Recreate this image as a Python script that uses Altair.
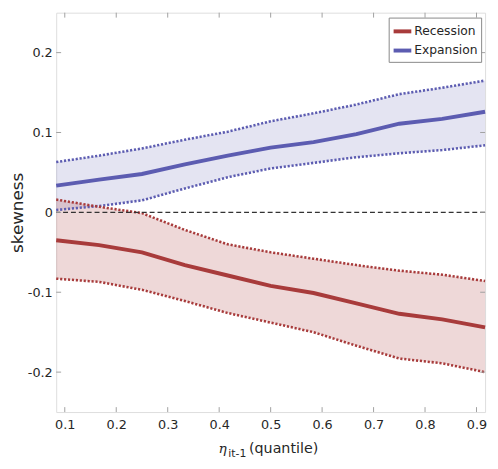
import altair as alt
import pandas as pd

# quantile grid (1/12 ... 11/12)
quantiles = [1/12, 2/12, 3/12, 4/12, 5/12, 6/12, 7/12, 8/12, 9/12, 10/12, 11/12]

exp_mean = [0.0335, 0.041, 0.048, 0.060, 0.071, 0.081, 0.088, 0.098, 0.111, 0.117, 0.126]
exp_hi = [0.063, 0.071, 0.080, 0.091, 0.101, 0.114, 0.124, 0.135, 0.148, 0.156, 0.165]
exp_lo = [0.003, 0.008, 0.015, 0.030, 0.044, 0.055, 0.062, 0.069, 0.074, 0.078, 0.084]

rec_mean = [-0.035, -0.041, -0.050, -0.066, -0.079, -0.092, -0.101, -0.114, -0.127, -0.134, -0.144]
rec_hi = [0.016, 0.007, -0.001, -0.022, -0.040, -0.050, -0.058, -0.066, -0.073, -0.078, -0.086]
rec_lo = [-0.083, -0.087, -0.097, -0.111, -0.126, -0.138, -0.150, -0.167, -0.183, -0.189, -0.200]

series = ["Recession", "Expansion"]
colors = ["#a83b3b", "#5c5cb1"]

x_ticks = [0.1, 0.2, 0.3, 0.4, 0.5, 0.6, 0.7, 0.8, 0.9]
y_ticks = [-0.2, -0.1, 0.0, 0.1, 0.2]

rows = []
for name, m, lo, hi in [("Recession", rec_mean, rec_lo, rec_hi),
                        ("Expansion", exp_mean, exp_lo, exp_hi)]:
    for q, a, b, c in zip(quantiles, m, lo, hi):
        rows.append({"q": q, "series": name, "mean": a, "lo": b, "hi": c})
df = pd.DataFrame(rows)

W, H = 436, 406
FONT = "DejaVu Sans"
TXT = "#262626"

xscale = alt.Scale(domain=[1/12, 11/12], nice=False, zero=False)
yscale = alt.Scale(domain=[-0.25, 0.25], nice=False, zero=False)
cscale = alt.Scale(domain=series, range=colors)

xaxis = alt.Axis(values=x_ticks, format=".1f", ticks=False, domain=False,
                 grid=False, labelPadding=7, labelFontSize=13,
                 labelFont=FONT, labelColor=TXT, title=None)
yaxis = alt.Axis(values=y_ticks, ticks=False, domain=False, grid=False,
                 labelExpr="datum.value == 0 ? '0' : replace(format(datum.value, '.1f'), '\u2212', '-')",
                 labelPadding=4, labelFontSize=13, labelFont=FONT, labelColor=TXT,
                 title="skewness", titleFontSize=17, titleFont=FONT,
                 titleFontWeight="normal", titleColor=TXT, titlePadding=1)


def X(field):
    return alt.X(field, type="quantitative", scale=xscale, axis=xaxis)


def Y(field):
    return alt.Y(field, type="quantitative", scale=yscale, axis=yaxis)


base = alt.Chart(df)

layers = []
for name, col, op in [("Expansion", colors[1], 0.17), ("Recession", colors[0], 0.2)]:
    layers.append(base.transform_filter(alt.datum.series == name).mark_area(
        color=col, opacity=op).encode(x=X("q"), y=Y("lo"), y2="hi:Q"))
for name, col in [("Expansion", colors[1]), ("Recession", colors[0])]:
    for f in ["lo", "hi"]:
        layers.append(base.transform_filter(alt.datum.series == name).mark_line(
            color=col, strokeDash=[2.2, 1.8], strokeWidth=2.6).encode(x=X("q"), y=Y(f)))

zero = alt.Chart(pd.DataFrame({"z": [0.0]})).mark_rule(
    color="#333333", strokeDash=[5, 3], strokeWidth=1.2
).encode(y=Y("z"))
layers.append(zero)

mean = base.mark_line(strokeWidth=4).encode(
    x=X("q"), y=Y("mean"),
    color=alt.Color("series:N", scale=cscale, sort=series,
                    legend=alt.Legend(orient="none", legendX=338, legendY=5, title=None,
                                      symbolType="stroke", symbolSize=324,
                                      symbolStrokeWidth=4, labelFontSize=12.5,
                                      labelFont=FONT, labelColor=TXT,
                                      strokeColor="#888888", fillColor="white",
                                      padding=3, rowPadding=0.5, labelOffset=1)),
)
layers.append(mean)

xt = pd.DataFrame({"v": x_ticks})
yt = pd.DataFrame({"v": y_ticks})
tick_col = "#a0a0a0"
layers += [
    alt.Chart(xt).mark_rule(color=tick_col).encode(x=X("v"), y=alt.value(H), y2=alt.value(H - 5)),
    alt.Chart(xt).mark_rule(color=tick_col).encode(x=X("v"), y=alt.value(0), y2=alt.value(5)),
    alt.Chart(yt).mark_rule(color=tick_col).encode(y=Y("v"), x=alt.value(0), x2=alt.value(5)),
    alt.Chart(yt).mark_rule(color=tick_col).encode(y=Y("v"), x=alt.value(W), x2=alt.value(W - 5)),
]

layers += [
    alt.Chart(pd.DataFrame({"t": ["\u03b7"]})).mark_text(
        font="DejaVu Serif", fontStyle="italic", fontSize=14, align="left",
        baseline="alphabetic", color=TXT).encode(text="t:N", x=alt.value(165), y=alt.value(448)),
    alt.Chart(pd.DataFrame({"t": ["it-1"]})).mark_text(
        font=FONT, fontSize=11, align="left", baseline="alphabetic", color=TXT).encode(
        text="t:N", x=alt.value(175), y=alt.value(452)),
    alt.Chart(pd.DataFrame({"t": ["(quantile)"]})).mark_text(
        font=FONT, fontSize=14.5, align="left", baseline="alphabetic", color=TXT).encode(
        text="t:N", x=alt.value(196), y=alt.value(448)),
]

chart = alt.layer(*layers).properties(
    width=W, height=H,
    autosize=alt.AutoSizeParams(type="none"),
    padding={"left": 49, "top": 1, "right": 5, "bottom": 46},
).configure_view(stroke="#b5b5b5", strokeWidth=1).configure(background="white")

chart.save("out.html", embed_options={"renderer": "svg", "actions": False})
